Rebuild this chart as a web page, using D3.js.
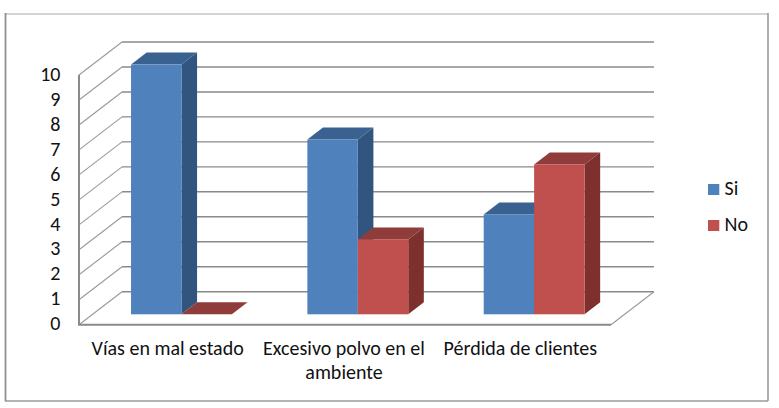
<!DOCTYPE html>
<html>
<head>
<meta charset="utf-8">
<script src="https://cdn.jsdelivr.net/npm/d3@7"></script>
<style>
html,body{margin:0;padding:0;background:#fff}
svg{display:block}
text{font-family:"Carlito","Open Sans","Liberation Sans",sans-serif;fill:#111}
</style>
</head>
<body>
<svg id="chart" width="779" height="408"></svg>
<script>
// Chart content
const categories = [["Vías en mal estado"], ["Excesivo polvo en el", "ambiente"], ["Pérdida de clientes"]];
const seriesNames = ["Si", "No"];
const siValues = [10, 7, 4];
const noValues = [0, 3, 6];
const yTicks = [0,1,2,3,4,5,6,7,8,9,10];

// Styling per series: front, top and side faces of each box
const faces = {
  Si: {front:"#4f81bd", top:"#3a6291", side:"#31557f"},
  No: {front:"#c0504d", top:"#8f3c3a", side:"#7e302e"}
};

// Oblique projection of the plot box
const wallDepth = {dx:43, dy:-33};     // front floor edge to back wall
const barPlane = {dx:14.3, dy:-10.4};  // front floor edge to the face of the bars
const barDepth = {dx:15.6, dy:-12};
const frontLeft = 79, frontRight = 611;
const labelSize = 20;

const svg = d3.select("#chart");

// Outer frame: each side carries its own grey
const frameSides = [
  {x1:5,   y1:14,  x2:768, y2:14,  stroke:"#c6c6c6", w:1.6},
  {x1:768, y1:13,  x2:768, y2:401, stroke:"#9a9a9a", w:1.6},
  {x1:5,   y1:401, x2:768, y2:401, stroke:"#9a9a9a", w:1.6},
  {x1:5.5, y1:13,  x2:5.5, y2:401, stroke:"#8f8f8f", w:1.8}
];
svg.append("g").selectAll("line").data(frameSides).join("line")
  .attr("x1",d=>d.x1).attr("y1",d=>d.y1).attr("x2",d=>d.x2).attr("y2",d=>d.y2)
  .attr("stroke",d=>d.stroke).attr("stroke-width",d=>d.w);

const y = d3.scaleLinear().domain([0,10]).range([324.7,75]);
const x0 = d3.scaleBand().domain(d3.range(categories.length))
  .range([frontLeft,frontRight-3]).paddingInner(0.428).paddingOuter(0.214);
const x1 = d3.scaleBand().domain(seriesNames).range([0,x0.bandwidth()]);

const gridColor = "#8a8a8a";
const grid = svg.append("g").attr("fill","none").attr("stroke",gridColor).attr("stroke-width",1.4);

// Back wall lines and the slanted side wall lines
yTicks.forEach(t=>{
  grid.append("line")
    .attr("x1",frontLeft+wallDepth.dx).attr("x2",frontRight+wallDepth.dx)
    .attr("y1",y(t)+wallDepth.dy).attr("y2",y(t)+wallDepth.dy);
  grid.append("line")
    .attr("x1",frontLeft).attr("x2",frontLeft+wallDepth.dx)
    .attr("y1",y(t)).attr("y2",y(t)+wallDepth.dy)
    .attr("stroke-width",1.1).attr("stroke","#9a9a9a");
});
// Floor right edge
grid.append("line")
  .attr("x1",frontRight).attr("x2",frontRight+wallDepth.dx)
  .attr("y1",y(0)).attr("y2",y(0)+wallDepth.dy)
  .attr("stroke-width",1.1).attr("stroke","#9a9a9a");

// Front axis edges
const axisPath = d3.path();
axisPath.moveTo(frontLeft,y(10));
axisPath.lineTo(frontLeft,y(0));
axisPath.lineTo(frontRight,y(0));
svg.append("path").attr("d",axisPath.toString()).attr("fill","none")
  .attr("stroke",gridColor).attr("stroke-width",2);

// Bars, drawn left to right so each box overlaps the previous side face
const poly = pts => pts.map(p=>p.join(",")).join(" ");
const bars = svg.append("g");
categories.forEach((c,i)=>{
  seriesNames.forEach((s,j)=>{
    const v = (j===0?siValues:noValues)[i];
    const xl = x0(i)+x1(s)+barPlane.dx, xr = xl+x1.bandwidth();
    const yb = y(0)+barPlane.dy, yt = y(v)+barPlane.dy;
    const d = barDepth, f = faces[s];
    const g = bars.append("g");
    g.append("polygon").attr("fill",f.side).attr("points",poly([[xr,yt],[xr+d.dx,yt+d.dy],[xr+d.dx,yb+d.dy],[xr,yb]]));
    g.append("polygon").attr("fill",f.top).attr("points",poly([[xl,yt],[xl+d.dx,yt+d.dy],[xr+d.dx,yt+d.dy],[xr,yt]]));
    if(v>0) g.append("rect").attr("x",xl).attr("y",yt).attr("width",xr-xl).attr("height",yb-yt).attr("fill",f.front);
  });
});

// Value axis labels
svg.append("g").selectAll("text").data(yTicks).join("text")
  .attr("x",60.5).attr("y",d=>y(d)+5.7).attr("text-anchor","end")
  .attr("font-size",labelSize).text(d=>d);

// Category labels
categories.forEach((lines,i)=>{
  const cx = x0(i)+x0.bandwidth()/2 + 0.5;
  lines.forEach((l,k)=>{
    svg.append("text").attr("x",cx).attr("y",355+k*24).attr("text-anchor","middle")
      .attr("font-size",labelSize).text(l);
  });
});

// Legend
const legendY = d3.scalePoint().domain(seriesNames).range([189.5,225.5]);
seriesNames.forEach(s=>{
  svg.append("rect").attr("x",708).attr("y",legendY(s)-5.5).attr("width",11.3).attr("height",11)
    .attr("fill",faces[s].front);
  svg.append("text").attr("x",724.5).attr("y",legendY(s)+5.5).attr("font-size",labelSize).text(s);
});
</script>
</body>
</html>
